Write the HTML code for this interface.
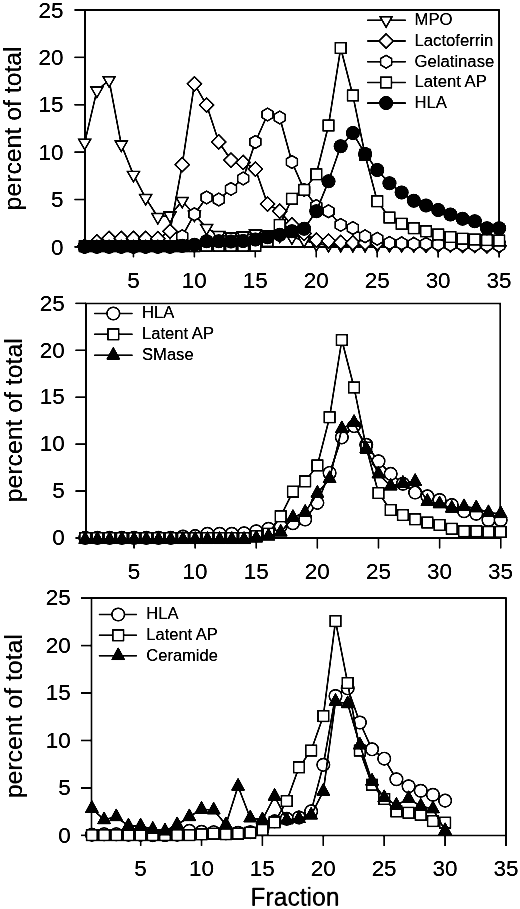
<!DOCTYPE html>
<html><head><meta charset="utf-8"><title>Fraction profiles</title>
<style>
html,body{margin:0;padding:0;background:#fff;}
body{width:520px;height:909px;overflow:hidden;font-family:"Liberation Sans",sans-serif;}
svg{display:block;opacity:0.999;will-change:transform;}
</style></head><body>
<svg width="520" height="909" viewBox="0 0 520 909" font-family="Liberation Sans, sans-serif" fill="#000"><style>text{stroke:#000;stroke-width:0.1px;}</style>
<defs><filter id="ink" x="0" y="0" width="100%" height="100%" color-interpolation-filters="sRGB"><feGaussianBlur stdDeviation="0.5"/><feComponentTransfer><feFuncR type="linear" slope="1.7" intercept="-0.5"/><feFuncG type="linear" slope="1.7" intercept="-0.5"/><feFuncB type="linear" slope="1.7" intercept="-0.5"/></feComponentTransfer></filter></defs>
<g filter="url(#ink)">
<rect width="520" height="909" fill="#fff"/>
<path d="M85 10 H499.1 V246.9 H85 Z" fill="none" stroke="#000" stroke-width="1.55"/>
<line x1="74.4" y1="246.9" x2="85" y2="246.9" stroke="#000" stroke-width="1.55"/>
<text transform="translate(63.5 254.6) scale(0.985 1)" font-size="22.8" text-anchor="end">0</text>
<line x1="74.4" y1="199.52" x2="85" y2="199.52" stroke="#000" stroke-width="1.55"/>
<text transform="translate(63.5 207.22) scale(0.985 1)" font-size="22.8" text-anchor="end">5</text>
<line x1="74.4" y1="152.14" x2="85" y2="152.14" stroke="#000" stroke-width="1.55"/>
<text transform="translate(63.5 159.84) scale(0.985 1)" font-size="22.8" text-anchor="end">10</text>
<line x1="74.4" y1="104.76" x2="85" y2="104.76" stroke="#000" stroke-width="1.55"/>
<text transform="translate(63.5 112.46) scale(0.985 1)" font-size="22.8" text-anchor="end">15</text>
<line x1="74.4" y1="57.38" x2="85" y2="57.38" stroke="#000" stroke-width="1.55"/>
<text transform="translate(63.5 65.08) scale(0.985 1)" font-size="22.8" text-anchor="end">20</text>
<line x1="74.4" y1="10" x2="85" y2="10" stroke="#000" stroke-width="1.55"/>
<text transform="translate(63.5 17.7) scale(0.985 1)" font-size="22.8" text-anchor="end">25</text>
<line x1="133.46" y1="246.9" x2="133.46" y2="257.4" stroke="#000" stroke-width="1.55"/>
<text transform="translate(133.36 288.2) scale(0.985 1)" font-size="22.8" text-anchor="middle">5</text>
<line x1="194.41" y1="246.9" x2="194.41" y2="257.4" stroke="#000" stroke-width="1.55"/>
<text transform="translate(194.31 288.2) scale(0.985 1)" font-size="22.8" text-anchor="middle">10</text>
<line x1="255.36" y1="246.9" x2="255.36" y2="257.4" stroke="#000" stroke-width="1.55"/>
<text transform="translate(255.26 288.2) scale(0.985 1)" font-size="22.8" text-anchor="middle">15</text>
<line x1="316.31" y1="246.9" x2="316.31" y2="257.4" stroke="#000" stroke-width="1.55"/>
<text transform="translate(316.21 288.2) scale(0.985 1)" font-size="22.8" text-anchor="middle">20</text>
<line x1="377.26" y1="246.9" x2="377.26" y2="257.4" stroke="#000" stroke-width="1.55"/>
<text transform="translate(377.16 288.2) scale(0.985 1)" font-size="22.8" text-anchor="middle">25</text>
<line x1="438.21" y1="246.9" x2="438.21" y2="257.4" stroke="#000" stroke-width="1.55"/>
<text transform="translate(438.11 288.2) scale(0.985 1)" font-size="22.8" text-anchor="middle">30</text>
<line x1="499.16" y1="246.9" x2="499.16" y2="257.4" stroke="#000" stroke-width="1.55"/>
<text transform="translate(499.06 288.2) scale(0.985 1)" font-size="22.8" text-anchor="middle">35</text>

<text transform="translate(21.2 128.4) rotate(-90)" font-size="24.8" text-anchor="middle">percent of total</text>

<polyline points="84.7,142.67 96.89,90.59 109.08,80.17 121.27,144.57 133.46,174.87 145.65,198.07 157.84,217.01 170.03,215.59 182.22,200.91 194.41,214.65 206.6,227.9 218.79,235.01 230.98,236.43 243.17,235.48 255.36,233.59 267.55,234.53 279.74,235.48 291.93,237.37 304.12,240.21 316.31,244 328.5,244.95 340.69,244.95 352.88,244.95 365.07,244.95 377.26,244.95 389.45,244.95 401.64,244.95 413.83,244.95 426.02,244.95 438.21,244.95 450.4,244.95 462.59,244.95 474.78,244.95 486.97,244.95 499.16,244.95" fill="none" stroke="#000" stroke-width="1.55" stroke-linejoin="round"/><polygon points="78.65,139.17 90.75,139.17 84.7,149.67" fill="#fff" stroke="#000" stroke-width="1.45" stroke-linejoin="miter"/><polygon points="90.84,87.09 102.94,87.09 96.89,97.59" fill="#fff" stroke="#000" stroke-width="1.45" stroke-linejoin="miter"/><polygon points="103.03,76.67 115.13,76.67 109.08,87.17" fill="#fff" stroke="#000" stroke-width="1.45" stroke-linejoin="miter"/><polygon points="115.22,141.07 127.32,141.07 121.27,151.57" fill="#fff" stroke="#000" stroke-width="1.45" stroke-linejoin="miter"/><polygon points="127.41,171.37 139.51,171.37 133.46,181.87" fill="#fff" stroke="#000" stroke-width="1.45" stroke-linejoin="miter"/><polygon points="139.6,194.57 151.7,194.57 145.65,205.07" fill="#fff" stroke="#000" stroke-width="1.45" stroke-linejoin="miter"/><polygon points="151.79,213.51 163.89,213.51 157.84,224.01" fill="#fff" stroke="#000" stroke-width="1.45" stroke-linejoin="miter"/><polygon points="163.98,212.09 176.08,212.09 170.03,222.59" fill="#fff" stroke="#000" stroke-width="1.45" stroke-linejoin="miter"/><polygon points="176.17,197.41 188.27,197.41 182.22,207.91" fill="#fff" stroke="#000" stroke-width="1.45" stroke-linejoin="miter"/><polygon points="188.36,211.15 200.46,211.15 194.41,221.65" fill="#fff" stroke="#000" stroke-width="1.45" stroke-linejoin="miter"/><polygon points="200.55,224.4 212.65,224.4 206.6,234.9" fill="#fff" stroke="#000" stroke-width="1.45" stroke-linejoin="miter"/><polygon points="212.74,231.51 224.84,231.51 218.79,242.01" fill="#fff" stroke="#000" stroke-width="1.45" stroke-linejoin="miter"/><polygon points="224.93,232.93 237.03,232.93 230.98,243.43" fill="#fff" stroke="#000" stroke-width="1.45" stroke-linejoin="miter"/><polygon points="237.12,231.98 249.22,231.98 243.17,242.48" fill="#fff" stroke="#000" stroke-width="1.45" stroke-linejoin="miter"/><polygon points="249.31,230.09 261.41,230.09 255.36,240.59" fill="#fff" stroke="#000" stroke-width="1.45" stroke-linejoin="miter"/><polygon points="261.5,231.03 273.6,231.03 267.55,241.53" fill="#fff" stroke="#000" stroke-width="1.45" stroke-linejoin="miter"/><polygon points="273.69,231.98 285.79,231.98 279.74,242.48" fill="#fff" stroke="#000" stroke-width="1.45" stroke-linejoin="miter"/><polygon points="285.88,233.87 297.98,233.87 291.93,244.37" fill="#fff" stroke="#000" stroke-width="1.45" stroke-linejoin="miter"/><polygon points="298.07,236.71 310.17,236.71 304.12,247.21" fill="#fff" stroke="#000" stroke-width="1.45" stroke-linejoin="miter"/><polygon points="310.26,240.5 322.36,240.5 316.31,251" fill="#fff" stroke="#000" stroke-width="1.45" stroke-linejoin="miter"/><polygon points="322.45,241.45 334.55,241.45 328.5,251.95" fill="#fff" stroke="#000" stroke-width="1.45" stroke-linejoin="miter"/><polygon points="334.64,241.45 346.74,241.45 340.69,251.95" fill="#fff" stroke="#000" stroke-width="1.45" stroke-linejoin="miter"/><polygon points="346.83,241.45 358.93,241.45 352.88,251.95" fill="#fff" stroke="#000" stroke-width="1.45" stroke-linejoin="miter"/><polygon points="359.02,241.45 371.12,241.45 365.07,251.95" fill="#fff" stroke="#000" stroke-width="1.45" stroke-linejoin="miter"/><polygon points="371.21,241.45 383.31,241.45 377.26,251.95" fill="#fff" stroke="#000" stroke-width="1.45" stroke-linejoin="miter"/><polygon points="383.4,241.45 395.5,241.45 389.45,251.95" fill="#fff" stroke="#000" stroke-width="1.45" stroke-linejoin="miter"/><polygon points="395.59,241.45 407.69,241.45 401.64,251.95" fill="#fff" stroke="#000" stroke-width="1.45" stroke-linejoin="miter"/><polygon points="407.78,241.45 419.88,241.45 413.83,251.95" fill="#fff" stroke="#000" stroke-width="1.45" stroke-linejoin="miter"/><polygon points="419.97,241.45 432.07,241.45 426.02,251.95" fill="#fff" stroke="#000" stroke-width="1.45" stroke-linejoin="miter"/><polygon points="432.16,241.45 444.26,241.45 438.21,251.95" fill="#fff" stroke="#000" stroke-width="1.45" stroke-linejoin="miter"/><polygon points="444.35,241.45 456.45,241.45 450.4,251.95" fill="#fff" stroke="#000" stroke-width="1.45" stroke-linejoin="miter"/><polygon points="456.54,241.45 468.64,241.45 462.59,251.95" fill="#fff" stroke="#000" stroke-width="1.45" stroke-linejoin="miter"/><polygon points="468.73,241.45 480.83,241.45 474.78,251.95" fill="#fff" stroke="#000" stroke-width="1.45" stroke-linejoin="miter"/><polygon points="480.92,241.45 493.02,241.45 486.97,251.95" fill="#fff" stroke="#000" stroke-width="1.45" stroke-linejoin="miter"/><polygon points="493.11,241.45 505.21,241.45 499.16,251.95" fill="#fff" stroke="#000" stroke-width="1.45" stroke-linejoin="miter"/>

<polyline points="84.7,246.23 96.89,241.96 109.08,238.37 121.27,238.37 133.46,238.37 145.65,238.37 157.84,238.65 170.03,231.26 182.22,164.69 194.41,83.82 206.6,105.03 218.79,141.96 230.98,160.05 243.17,162.42 255.36,169.05 267.55,204.08 279.74,211.19 291.93,224.92 304.12,233.44 316.31,240.07 328.5,241.02 340.69,242.44 352.88,242.91 365.07,242.91 377.26,242.91 389.45,243.86 401.64,243.86 413.83,244.33 426.02,244.81 438.21,244.81 450.4,244.81 462.59,245.28 474.78,245.28 486.97,245.75 499.16,245.75" fill="none" stroke="#000" stroke-width="1.55" stroke-linejoin="round"/><polygon points="84.7,239.13 91.8,246.23 84.7,253.33 77.6,246.23" fill="#fff" stroke="#000" stroke-width="1.45" stroke-linejoin="miter"/><polygon points="96.89,234.86 103.99,241.96 96.89,249.06 89.79,241.96" fill="#fff" stroke="#000" stroke-width="1.45" stroke-linejoin="miter"/><polygon points="109.08,231.27 116.18,238.37 109.08,245.47 101.98,238.37" fill="#fff" stroke="#000" stroke-width="1.45" stroke-linejoin="miter"/><polygon points="121.27,231.27 128.37,238.37 121.27,245.47 114.17,238.37" fill="#fff" stroke="#000" stroke-width="1.45" stroke-linejoin="miter"/><polygon points="133.46,231.27 140.56,238.37 133.46,245.47 126.36,238.37" fill="#fff" stroke="#000" stroke-width="1.45" stroke-linejoin="miter"/><polygon points="145.65,231.27 152.75,238.37 145.65,245.47 138.55,238.37" fill="#fff" stroke="#000" stroke-width="1.45" stroke-linejoin="miter"/><polygon points="157.84,231.55 164.94,238.65 157.84,245.75 150.74,238.65" fill="#fff" stroke="#000" stroke-width="1.45" stroke-linejoin="miter"/><polygon points="170.03,224.16 177.13,231.26 170.03,238.36 162.93,231.26" fill="#fff" stroke="#000" stroke-width="1.45" stroke-linejoin="miter"/><polygon points="182.22,157.59 189.32,164.69 182.22,171.79 175.12,164.69" fill="#fff" stroke="#000" stroke-width="1.45" stroke-linejoin="miter"/><polygon points="194.41,76.72 201.51,83.82 194.41,90.92 187.31,83.82" fill="#fff" stroke="#000" stroke-width="1.45" stroke-linejoin="miter"/><polygon points="206.6,97.93 213.7,105.03 206.6,112.13 199.5,105.03" fill="#fff" stroke="#000" stroke-width="1.45" stroke-linejoin="miter"/><polygon points="218.79,134.86 225.89,141.96 218.79,149.06 211.69,141.96" fill="#fff" stroke="#000" stroke-width="1.45" stroke-linejoin="miter"/><polygon points="230.98,152.95 238.08,160.05 230.98,167.15 223.88,160.05" fill="#fff" stroke="#000" stroke-width="1.45" stroke-linejoin="miter"/><polygon points="243.17,155.32 250.27,162.42 243.17,169.52 236.07,162.42" fill="#fff" stroke="#000" stroke-width="1.45" stroke-linejoin="miter"/><polygon points="255.36,161.95 262.46,169.05 255.36,176.15 248.26,169.05" fill="#fff" stroke="#000" stroke-width="1.45" stroke-linejoin="miter"/><polygon points="267.55,196.98 274.65,204.08 267.55,211.18 260.45,204.08" fill="#fff" stroke="#000" stroke-width="1.45" stroke-linejoin="miter"/><polygon points="279.74,204.09 286.84,211.19 279.74,218.29 272.64,211.19" fill="#fff" stroke="#000" stroke-width="1.45" stroke-linejoin="miter"/><polygon points="291.93,217.82 299.03,224.92 291.93,232.02 284.83,224.92" fill="#fff" stroke="#000" stroke-width="1.45" stroke-linejoin="miter"/><polygon points="304.12,226.34 311.22,233.44 304.12,240.54 297.02,233.44" fill="#fff" stroke="#000" stroke-width="1.45" stroke-linejoin="miter"/><polygon points="316.31,232.97 323.41,240.07 316.31,247.17 309.21,240.07" fill="#fff" stroke="#000" stroke-width="1.45" stroke-linejoin="miter"/><polygon points="328.5,233.92 335.6,241.02 328.5,248.12 321.4,241.02" fill="#fff" stroke="#000" stroke-width="1.45" stroke-linejoin="miter"/><polygon points="340.69,235.34 347.79,242.44 340.69,249.54 333.59,242.44" fill="#fff" stroke="#000" stroke-width="1.45" stroke-linejoin="miter"/><polygon points="352.88,235.81 359.98,242.91 352.88,250.01 345.78,242.91" fill="#fff" stroke="#000" stroke-width="1.45" stroke-linejoin="miter"/><polygon points="365.07,235.81 372.17,242.91 365.07,250.01 357.97,242.91" fill="#fff" stroke="#000" stroke-width="1.45" stroke-linejoin="miter"/><polygon points="377.26,235.81 384.36,242.91 377.26,250.01 370.16,242.91" fill="#fff" stroke="#000" stroke-width="1.45" stroke-linejoin="miter"/><polygon points="389.45,236.76 396.55,243.86 389.45,250.96 382.35,243.86" fill="#fff" stroke="#000" stroke-width="1.45" stroke-linejoin="miter"/><polygon points="401.64,236.76 408.74,243.86 401.64,250.96 394.54,243.86" fill="#fff" stroke="#000" stroke-width="1.45" stroke-linejoin="miter"/><polygon points="413.83,237.23 420.93,244.33 413.83,251.43 406.73,244.33" fill="#fff" stroke="#000" stroke-width="1.45" stroke-linejoin="miter"/><polygon points="426.02,237.71 433.12,244.81 426.02,251.91 418.92,244.81" fill="#fff" stroke="#000" stroke-width="1.45" stroke-linejoin="miter"/><polygon points="438.21,237.71 445.31,244.81 438.21,251.91 431.11,244.81" fill="#fff" stroke="#000" stroke-width="1.45" stroke-linejoin="miter"/><polygon points="450.4,237.71 457.5,244.81 450.4,251.91 443.3,244.81" fill="#fff" stroke="#000" stroke-width="1.45" stroke-linejoin="miter"/><polygon points="462.59,238.18 469.69,245.28 462.59,252.38 455.49,245.28" fill="#fff" stroke="#000" stroke-width="1.45" stroke-linejoin="miter"/><polygon points="474.78,238.18 481.88,245.28 474.78,252.38 467.68,245.28" fill="#fff" stroke="#000" stroke-width="1.45" stroke-linejoin="miter"/><polygon points="486.97,238.65 494.07,245.75 486.97,252.85 479.87,245.75" fill="#fff" stroke="#000" stroke-width="1.45" stroke-linejoin="miter"/><polygon points="499.16,238.65 506.26,245.75 499.16,252.85 492.06,245.75" fill="#fff" stroke="#000" stroke-width="1.45" stroke-linejoin="miter"/>

<polyline points="84.7,246.7 96.89,246.7 109.08,246.7 121.27,246.7 133.46,246.7 145.65,246.7 157.84,246.7 170.03,246.7 182.22,236.28 194.41,214.22 206.6,197.46 218.79,199.54 230.98,188.93 243.17,178.52 255.36,141.96 267.55,114.5 279.74,117.53 291.93,161.94 304.12,189.88 316.31,205.98 328.5,211.28 340.69,224.92 352.88,228.04 365.07,236.28 377.26,238.75 389.45,242.91 401.64,243.39 413.83,243.86 426.02,243.86 438.21,244.33 450.4,244.81 462.59,244.81 474.78,245.28 486.97,245.28 499.16,245.75" fill="none" stroke="#000" stroke-width="1.55" stroke-linejoin="round"/><polygon points="84.7,240.35 90.2,243.52 90.2,249.88 84.7,253.05 79.2,249.88 79.2,243.52" fill="#fff" stroke="#000" stroke-width="1.45" stroke-linejoin="miter"/><polygon points="96.89,240.35 102.39,243.52 102.39,249.88 96.89,253.05 91.39,249.88 91.39,243.52" fill="#fff" stroke="#000" stroke-width="1.45" stroke-linejoin="miter"/><polygon points="109.08,240.35 114.58,243.52 114.58,249.88 109.08,253.05 103.58,249.88 103.58,243.52" fill="#fff" stroke="#000" stroke-width="1.45" stroke-linejoin="miter"/><polygon points="121.27,240.35 126.77,243.52 126.77,249.88 121.27,253.05 115.77,249.88 115.77,243.52" fill="#fff" stroke="#000" stroke-width="1.45" stroke-linejoin="miter"/><polygon points="133.46,240.35 138.96,243.52 138.96,249.88 133.46,253.05 127.96,249.88 127.96,243.52" fill="#fff" stroke="#000" stroke-width="1.45" stroke-linejoin="miter"/><polygon points="145.65,240.35 151.15,243.52 151.15,249.88 145.65,253.05 140.15,249.88 140.15,243.52" fill="#fff" stroke="#000" stroke-width="1.45" stroke-linejoin="miter"/><polygon points="157.84,240.35 163.34,243.52 163.34,249.88 157.84,253.05 152.34,249.88 152.34,243.52" fill="#fff" stroke="#000" stroke-width="1.45" stroke-linejoin="miter"/><polygon points="170.03,240.35 175.53,243.52 175.53,249.88 170.03,253.05 164.53,249.88 164.53,243.52" fill="#fff" stroke="#000" stroke-width="1.45" stroke-linejoin="miter"/><polygon points="182.22,229.93 187.72,233.11 187.72,239.46 182.22,242.63 176.72,239.46 176.72,233.11" fill="#fff" stroke="#000" stroke-width="1.45" stroke-linejoin="miter"/><polygon points="194.41,207.87 199.91,211.04 199.91,217.39 194.41,220.57 188.91,217.39 188.91,211.04" fill="#fff" stroke="#000" stroke-width="1.45" stroke-linejoin="miter"/><polygon points="206.6,191.11 212.1,194.28 212.1,200.63 206.6,203.81 201.1,200.63 201.1,194.28" fill="#fff" stroke="#000" stroke-width="1.45" stroke-linejoin="miter"/><polygon points="218.79,193.19 224.29,196.36 224.29,202.71 218.79,205.89 213.29,202.71 213.29,196.36" fill="#fff" stroke="#000" stroke-width="1.45" stroke-linejoin="miter"/><polygon points="230.98,182.58 236.48,185.76 236.48,192.11 230.98,195.28 225.48,192.11 225.48,185.76" fill="#fff" stroke="#000" stroke-width="1.45" stroke-linejoin="miter"/><polygon points="243.17,172.17 248.67,175.34 248.67,181.69 243.17,184.87 237.67,181.69 237.67,175.34" fill="#fff" stroke="#000" stroke-width="1.45" stroke-linejoin="miter"/><polygon points="255.36,135.61 260.86,138.79 260.86,145.14 255.36,148.31 249.86,145.14 249.86,138.79" fill="#fff" stroke="#000" stroke-width="1.45" stroke-linejoin="miter"/><polygon points="267.55,108.15 273.05,111.32 273.05,117.67 267.55,120.85 262.05,117.67 262.05,111.32" fill="#fff" stroke="#000" stroke-width="1.45" stroke-linejoin="miter"/><polygon points="279.74,111.18 285.24,114.35 285.24,120.7 279.74,123.88 274.24,120.7 274.24,114.35" fill="#fff" stroke="#000" stroke-width="1.45" stroke-linejoin="miter"/><polygon points="291.93,155.59 297.43,158.77 297.43,165.12 291.93,168.29 286.43,165.12 286.43,158.77" fill="#fff" stroke="#000" stroke-width="1.45" stroke-linejoin="miter"/><polygon points="304.12,183.53 309.62,186.7 309.62,193.06 304.12,196.23 298.62,193.06 298.62,186.7" fill="#fff" stroke="#000" stroke-width="1.45" stroke-linejoin="miter"/><polygon points="316.31,199.63 321.81,202.8 321.81,209.15 316.31,212.33 310.81,209.15 310.81,202.8" fill="#fff" stroke="#000" stroke-width="1.45" stroke-linejoin="miter"/><polygon points="328.5,204.93 334,208.11 334,214.46 328.5,217.63 323,214.46 323,208.11" fill="#fff" stroke="#000" stroke-width="1.45" stroke-linejoin="miter"/><polygon points="340.69,218.57 346.19,221.74 346.19,228.09 340.69,231.27 335.19,228.09 335.19,221.74" fill="#fff" stroke="#000" stroke-width="1.45" stroke-linejoin="miter"/><polygon points="352.88,221.69 358.38,224.87 358.38,231.22 352.88,234.39 347.38,231.22 347.38,224.87" fill="#fff" stroke="#000" stroke-width="1.45" stroke-linejoin="miter"/><polygon points="365.07,229.93 370.57,233.11 370.57,239.46 365.07,242.63 359.57,239.46 359.57,233.11" fill="#fff" stroke="#000" stroke-width="1.45" stroke-linejoin="miter"/><polygon points="377.26,232.4 382.76,235.57 382.76,241.92 377.26,245.1 371.76,241.92 371.76,235.57" fill="#fff" stroke="#000" stroke-width="1.45" stroke-linejoin="miter"/><polygon points="389.45,236.56 394.95,239.74 394.95,246.09 389.45,249.26 383.95,246.09 383.95,239.74" fill="#fff" stroke="#000" stroke-width="1.45" stroke-linejoin="miter"/><polygon points="401.64,237.04 407.14,240.21 407.14,246.56 401.64,249.74 396.14,246.56 396.14,240.21" fill="#fff" stroke="#000" stroke-width="1.45" stroke-linejoin="miter"/><polygon points="413.83,237.51 419.33,240.68 419.33,247.03 413.83,250.21 408.33,247.03 408.33,240.68" fill="#fff" stroke="#000" stroke-width="1.45" stroke-linejoin="miter"/><polygon points="426.02,237.51 431.52,240.68 431.52,247.03 426.02,250.21 420.52,247.03 420.52,240.68" fill="#fff" stroke="#000" stroke-width="1.45" stroke-linejoin="miter"/><polygon points="438.21,237.98 443.71,241.16 443.71,247.51 438.21,250.68 432.71,247.51 432.71,241.16" fill="#fff" stroke="#000" stroke-width="1.45" stroke-linejoin="miter"/><polygon points="450.4,238.46 455.9,241.63 455.9,247.98 450.4,251.16 444.9,247.98 444.9,241.63" fill="#fff" stroke="#000" stroke-width="1.45" stroke-linejoin="miter"/><polygon points="462.59,238.46 468.09,241.63 468.09,247.98 462.59,251.16 457.09,247.98 457.09,241.63" fill="#fff" stroke="#000" stroke-width="1.45" stroke-linejoin="miter"/><polygon points="474.78,238.93 480.28,242.1 480.28,248.45 474.78,251.63 469.28,248.45 469.28,242.1" fill="#fff" stroke="#000" stroke-width="1.45" stroke-linejoin="miter"/><polygon points="486.97,238.93 492.47,242.1 492.47,248.45 486.97,251.63 481.47,248.45 481.47,242.1" fill="#fff" stroke="#000" stroke-width="1.45" stroke-linejoin="miter"/><polygon points="499.16,239.4 504.66,242.58 504.66,248.93 499.16,252.1 493.66,248.93 493.66,242.58" fill="#fff" stroke="#000" stroke-width="1.45" stroke-linejoin="miter"/>

<polyline points="84.7,246.23 96.89,246.23 109.08,246.23 121.27,246.23 133.46,246.23 145.65,246.23 157.84,246.23 170.03,246.23 182.22,246.23 194.41,246.23 206.6,245.75 218.79,245.75 230.98,245.75 243.17,245.75 255.36,245.75 267.55,241.02 279.74,224.92 291.93,198.78 304.12,189.88 316.31,174.25 328.5,125.48 340.69,48.02 352.88,95.46 365.07,154.84 377.26,201.24 389.45,217.53 401.64,223.78 413.83,228.23 426.02,231.26 438.21,234.48 450.4,237.04 462.59,238.75 474.78,239.5 486.97,240.07 499.16,240.54" fill="none" stroke="#000" stroke-width="1.55" stroke-linejoin="round"/><rect x="79.35" y="240.88" width="10.7" height="10.7" fill="#fff" stroke="#000" stroke-width="1.45"/><rect x="91.54" y="240.88" width="10.7" height="10.7" fill="#fff" stroke="#000" stroke-width="1.45"/><rect x="103.73" y="240.88" width="10.7" height="10.7" fill="#fff" stroke="#000" stroke-width="1.45"/><rect x="115.92" y="240.88" width="10.7" height="10.7" fill="#fff" stroke="#000" stroke-width="1.45"/><rect x="128.11" y="240.88" width="10.7" height="10.7" fill="#fff" stroke="#000" stroke-width="1.45"/><rect x="140.3" y="240.88" width="10.7" height="10.7" fill="#fff" stroke="#000" stroke-width="1.45"/><rect x="152.49" y="240.88" width="10.7" height="10.7" fill="#fff" stroke="#000" stroke-width="1.45"/><rect x="164.68" y="240.88" width="10.7" height="10.7" fill="#fff" stroke="#000" stroke-width="1.45"/><rect x="176.87" y="240.88" width="10.7" height="10.7" fill="#fff" stroke="#000" stroke-width="1.45"/><rect x="189.06" y="240.88" width="10.7" height="10.7" fill="#fff" stroke="#000" stroke-width="1.45"/><rect x="201.25" y="240.4" width="10.7" height="10.7" fill="#fff" stroke="#000" stroke-width="1.45"/><rect x="213.44" y="240.4" width="10.7" height="10.7" fill="#fff" stroke="#000" stroke-width="1.45"/><rect x="225.63" y="240.4" width="10.7" height="10.7" fill="#fff" stroke="#000" stroke-width="1.45"/><rect x="237.82" y="240.4" width="10.7" height="10.7" fill="#fff" stroke="#000" stroke-width="1.45"/><rect x="250.01" y="240.4" width="10.7" height="10.7" fill="#fff" stroke="#000" stroke-width="1.45"/><rect x="262.2" y="235.67" width="10.7" height="10.7" fill="#fff" stroke="#000" stroke-width="1.45"/><rect x="274.39" y="219.57" width="10.7" height="10.7" fill="#fff" stroke="#000" stroke-width="1.45"/><rect x="286.58" y="193.43" width="10.7" height="10.7" fill="#fff" stroke="#000" stroke-width="1.45"/><rect x="298.77" y="184.53" width="10.7" height="10.7" fill="#fff" stroke="#000" stroke-width="1.45"/><rect x="310.96" y="168.9" width="10.7" height="10.7" fill="#fff" stroke="#000" stroke-width="1.45"/><rect x="323.15" y="120.13" width="10.7" height="10.7" fill="#fff" stroke="#000" stroke-width="1.45"/><rect x="335.34" y="42.67" width="10.7" height="10.7" fill="#fff" stroke="#000" stroke-width="1.45"/><rect x="347.53" y="90.11" width="10.7" height="10.7" fill="#fff" stroke="#000" stroke-width="1.45"/><rect x="359.72" y="149.49" width="10.7" height="10.7" fill="#fff" stroke="#000" stroke-width="1.45"/><rect x="371.91" y="195.89" width="10.7" height="10.7" fill="#fff" stroke="#000" stroke-width="1.45"/><rect x="384.1" y="212.18" width="10.7" height="10.7" fill="#fff" stroke="#000" stroke-width="1.45"/><rect x="396.29" y="218.43" width="10.7" height="10.7" fill="#fff" stroke="#000" stroke-width="1.45"/><rect x="408.48" y="222.88" width="10.7" height="10.7" fill="#fff" stroke="#000" stroke-width="1.45"/><rect x="420.67" y="225.91" width="10.7" height="10.7" fill="#fff" stroke="#000" stroke-width="1.45"/><rect x="432.86" y="229.13" width="10.7" height="10.7" fill="#fff" stroke="#000" stroke-width="1.45"/><rect x="445.05" y="231.69" width="10.7" height="10.7" fill="#fff" stroke="#000" stroke-width="1.45"/><rect x="457.24" y="233.4" width="10.7" height="10.7" fill="#fff" stroke="#000" stroke-width="1.45"/><rect x="469.43" y="234.15" width="10.7" height="10.7" fill="#fff" stroke="#000" stroke-width="1.45"/><rect x="481.62" y="234.72" width="10.7" height="10.7" fill="#fff" stroke="#000" stroke-width="1.45"/><rect x="493.81" y="235.19" width="10.7" height="10.7" fill="#fff" stroke="#000" stroke-width="1.45"/>

<polyline points="84.7,246.7 96.89,246.7 109.08,246.7 121.27,246.7 133.46,246.7 145.65,246.7 157.84,246.7 170.03,246.7 182.22,245.75 194.41,244.81 206.6,241.21 218.79,241.21 230.98,241.49 243.17,241.02 255.36,239.6 267.55,237.23 279.74,234.86 291.93,231.26 304.12,228.71 316.31,211.28 328.5,181.36 340.69,146.32 352.88,133.06 365.07,153.89 377.26,169.99 389.45,183.25 401.64,192.53 413.83,200.77 426.02,205.51 438.21,209.96 450.4,214.5 462.59,218.76 474.78,221.23 486.97,228.23 499.16,228.23" fill="none" stroke="#000" stroke-width="1.55" stroke-linejoin="round"/><circle cx="84.7" cy="246.7" r="7.0" fill="#000"/><circle cx="96.89" cy="246.7" r="7.0" fill="#000"/><circle cx="109.08" cy="246.7" r="7.0" fill="#000"/><circle cx="121.27" cy="246.7" r="7.0" fill="#000"/><circle cx="133.46" cy="246.7" r="7.0" fill="#000"/><circle cx="145.65" cy="246.7" r="7.0" fill="#000"/><circle cx="157.84" cy="246.7" r="7.0" fill="#000"/><circle cx="170.03" cy="246.7" r="7.0" fill="#000"/><circle cx="182.22" cy="245.75" r="7.0" fill="#000"/><circle cx="194.41" cy="244.81" r="7.0" fill="#000"/><circle cx="206.6" cy="241.21" r="7.0" fill="#000"/><circle cx="218.79" cy="241.21" r="7.0" fill="#000"/><circle cx="230.98" cy="241.49" r="7.0" fill="#000"/><circle cx="243.17" cy="241.02" r="7.0" fill="#000"/><circle cx="255.36" cy="239.6" r="7.0" fill="#000"/><circle cx="267.55" cy="237.23" r="7.0" fill="#000"/><circle cx="279.74" cy="234.86" r="7.0" fill="#000"/><circle cx="291.93" cy="231.26" r="7.0" fill="#000"/><circle cx="304.12" cy="228.71" r="7.0" fill="#000"/><circle cx="316.31" cy="211.28" r="7.0" fill="#000"/><circle cx="328.5" cy="181.36" r="7.0" fill="#000"/><circle cx="340.69" cy="146.32" r="7.0" fill="#000"/><circle cx="352.88" cy="133.06" r="7.0" fill="#000"/><circle cx="365.07" cy="153.89" r="7.0" fill="#000"/><circle cx="377.26" cy="169.99" r="7.0" fill="#000"/><circle cx="389.45" cy="183.25" r="7.0" fill="#000"/><circle cx="401.64" cy="192.53" r="7.0" fill="#000"/><circle cx="413.83" cy="200.77" r="7.0" fill="#000"/><circle cx="426.02" cy="205.51" r="7.0" fill="#000"/><circle cx="438.21" cy="209.96" r="7.0" fill="#000"/><circle cx="450.4" cy="214.5" r="7.0" fill="#000"/><circle cx="462.59" cy="218.76" r="7.0" fill="#000"/><circle cx="474.78" cy="221.23" r="7.0" fill="#000"/><circle cx="486.97" cy="228.23" r="7.0" fill="#000"/><circle cx="499.16" cy="228.23" r="7.0" fill="#000"/>

<line x1="367.2" y1="20.2" x2="405.8" y2="20.2" stroke="#000" stroke-width="1.55"/>
<polygon points="380.05,16.7 392.15,16.7 386.1,27.2" fill="#fff" stroke="#000" stroke-width="1.45" stroke-linejoin="miter"/>
<text x="414.5" y="25.4" font-size="16.7">MPO</text>
<line x1="367.2" y1="41" x2="405.8" y2="41" stroke="#000" stroke-width="1.55"/>
<polygon points="386.1,33.9 393.2,41 386.1,48.1 379,41" fill="#fff" stroke="#000" stroke-width="1.45" stroke-linejoin="miter"/>
<text x="414.5" y="45.8" font-size="16.7">Lactoferrin</text>
<line x1="367.2" y1="61.7" x2="405.8" y2="61.7" stroke="#000" stroke-width="1.55"/>
<polygon points="386.1,55.35 391.6,58.53 391.6,64.88 386.1,68.05 380.6,64.88 380.6,58.53" fill="#fff" stroke="#000" stroke-width="1.45" stroke-linejoin="miter"/>
<text x="414.5" y="66.6" font-size="16.7">Gelatinase</text>
<line x1="367.2" y1="82.5" x2="405.8" y2="82.5" stroke="#000" stroke-width="1.55"/>
<rect x="380.75" y="77.15" width="10.7" height="10.7" fill="#fff" stroke="#000" stroke-width="1.45"/>
<text x="414.5" y="87.4" font-size="16.7">Latent AP</text>
<line x1="367.2" y1="103.1" x2="405.8" y2="103.1" stroke="#000" stroke-width="1.55"/>
<circle cx="386.1" cy="103.1" r="7.0" fill="#000"/>
<text x="414.5" y="108" font-size="16.7">HLA</text>

<path d="M86 303.4 H500.3 V538 H86 Z" fill="none" stroke="#000" stroke-width="1.55"/>
<line x1="75.4" y1="538" x2="86" y2="538" stroke="#000" stroke-width="1.55"/>
<text transform="translate(64.8 545.2) scale(0.985 1)" font-size="22.8" text-anchor="end">0</text>
<line x1="75.4" y1="491.08" x2="86" y2="491.08" stroke="#000" stroke-width="1.55"/>
<text transform="translate(64.8 498.28) scale(0.985 1)" font-size="22.8" text-anchor="end">5</text>
<line x1="75.4" y1="444.16" x2="86" y2="444.16" stroke="#000" stroke-width="1.55"/>
<text transform="translate(64.8 451.36) scale(0.985 1)" font-size="22.8" text-anchor="end">10</text>
<line x1="75.4" y1="397.24" x2="86" y2="397.24" stroke="#000" stroke-width="1.55"/>
<text transform="translate(64.8 404.44) scale(0.985 1)" font-size="22.8" text-anchor="end">15</text>
<line x1="75.4" y1="350.32" x2="86" y2="350.32" stroke="#000" stroke-width="1.55"/>
<text transform="translate(64.8 357.52) scale(0.985 1)" font-size="22.8" text-anchor="end">20</text>
<line x1="75.4" y1="303.4" x2="86" y2="303.4" stroke="#000" stroke-width="1.55"/>
<text transform="translate(64.8 310.6) scale(0.985 1)" font-size="22.8" text-anchor="end">25</text>
<line x1="134.08" y1="538" x2="134.08" y2="548.5" stroke="#000" stroke-width="1.55"/>
<text transform="translate(133.98 579) scale(0.985 1)" font-size="22.8" text-anchor="middle">5</text>
<line x1="195.18" y1="538" x2="195.18" y2="548.5" stroke="#000" stroke-width="1.55"/>
<text transform="translate(195.08 579) scale(0.985 1)" font-size="22.8" text-anchor="middle">10</text>
<line x1="256.28" y1="538" x2="256.28" y2="548.5" stroke="#000" stroke-width="1.55"/>
<text transform="translate(256.18 579) scale(0.985 1)" font-size="22.8" text-anchor="middle">15</text>
<line x1="317.38" y1="538" x2="317.38" y2="548.5" stroke="#000" stroke-width="1.55"/>
<text transform="translate(317.28 579) scale(0.985 1)" font-size="22.8" text-anchor="middle">20</text>
<line x1="378.48" y1="538" x2="378.48" y2="548.5" stroke="#000" stroke-width="1.55"/>
<text transform="translate(378.38 579) scale(0.985 1)" font-size="22.8" text-anchor="middle">25</text>
<line x1="439.58" y1="538" x2="439.58" y2="548.5" stroke="#000" stroke-width="1.55"/>
<text transform="translate(439.48 579) scale(0.985 1)" font-size="22.8" text-anchor="middle">30</text>
<line x1="500.68" y1="538" x2="500.68" y2="548.5" stroke="#000" stroke-width="1.55"/>
<text transform="translate(500.58 579) scale(0.985 1)" font-size="22.8" text-anchor="middle">35</text>

<text transform="translate(21.6 420.3) rotate(-90)" font-size="24.8" text-anchor="middle">percent of total</text>

<polyline points="85.2,537.69 97.42,537.69 109.64,537.69 121.86,537.69 134.08,537.69 146.3,537.69 158.52,537.69 170.74,537.69 182.96,536.56 195.18,536.1 207.4,533.76 219.62,533.76 231.84,533.76 244.06,533.29 256.28,531.23 268.5,528.8 280.72,526.27 292.94,523.27 305.16,519.53 317.38,502.87 329.6,472.92 341.82,437.35 354.04,426.12 366.26,444.84 378.48,461.22 390.7,473.85 402.92,483.77 415.14,492.57 427.36,496.32 439.58,500.06 451.8,505.02 464.02,511.29 476.24,513.73 488.46,520 500.68,520" fill="none" stroke="#000" stroke-width="1.55" stroke-linejoin="round"/><circle cx="85.2" cy="537.69" r="6.3" fill="#fff" stroke="#000" stroke-width="1.45"/><circle cx="97.42" cy="537.69" r="6.3" fill="#fff" stroke="#000" stroke-width="1.45"/><circle cx="109.64" cy="537.69" r="6.3" fill="#fff" stroke="#000" stroke-width="1.45"/><circle cx="121.86" cy="537.69" r="6.3" fill="#fff" stroke="#000" stroke-width="1.45"/><circle cx="134.08" cy="537.69" r="6.3" fill="#fff" stroke="#000" stroke-width="1.45"/><circle cx="146.3" cy="537.69" r="6.3" fill="#fff" stroke="#000" stroke-width="1.45"/><circle cx="158.52" cy="537.69" r="6.3" fill="#fff" stroke="#000" stroke-width="1.45"/><circle cx="170.74" cy="537.69" r="6.3" fill="#fff" stroke="#000" stroke-width="1.45"/><circle cx="182.96" cy="536.56" r="6.3" fill="#fff" stroke="#000" stroke-width="1.45"/><circle cx="195.18" cy="536.1" r="6.3" fill="#fff" stroke="#000" stroke-width="1.45"/><circle cx="207.4" cy="533.76" r="6.3" fill="#fff" stroke="#000" stroke-width="1.45"/><circle cx="219.62" cy="533.76" r="6.3" fill="#fff" stroke="#000" stroke-width="1.45"/><circle cx="231.84" cy="533.76" r="6.3" fill="#fff" stroke="#000" stroke-width="1.45"/><circle cx="244.06" cy="533.29" r="6.3" fill="#fff" stroke="#000" stroke-width="1.45"/><circle cx="256.28" cy="531.23" r="6.3" fill="#fff" stroke="#000" stroke-width="1.45"/><circle cx="268.5" cy="528.8" r="6.3" fill="#fff" stroke="#000" stroke-width="1.45"/><circle cx="280.72" cy="526.27" r="6.3" fill="#fff" stroke="#000" stroke-width="1.45"/><circle cx="292.94" cy="523.27" r="6.3" fill="#fff" stroke="#000" stroke-width="1.45"/><circle cx="305.16" cy="519.53" r="6.3" fill="#fff" stroke="#000" stroke-width="1.45"/><circle cx="317.38" cy="502.87" r="6.3" fill="#fff" stroke="#000" stroke-width="1.45"/><circle cx="329.6" cy="472.92" r="6.3" fill="#fff" stroke="#000" stroke-width="1.45"/><circle cx="341.82" cy="437.35" r="6.3" fill="#fff" stroke="#000" stroke-width="1.45"/><circle cx="354.04" cy="426.12" r="6.3" fill="#fff" stroke="#000" stroke-width="1.45"/><circle cx="366.26" cy="444.84" r="6.3" fill="#fff" stroke="#000" stroke-width="1.45"/><circle cx="378.48" cy="461.22" r="6.3" fill="#fff" stroke="#000" stroke-width="1.45"/><circle cx="390.7" cy="473.85" r="6.3" fill="#fff" stroke="#000" stroke-width="1.45"/><circle cx="402.92" cy="483.77" r="6.3" fill="#fff" stroke="#000" stroke-width="1.45"/><circle cx="415.14" cy="492.57" r="6.3" fill="#fff" stroke="#000" stroke-width="1.45"/><circle cx="427.36" cy="496.32" r="6.3" fill="#fff" stroke="#000" stroke-width="1.45"/><circle cx="439.58" cy="500.06" r="6.3" fill="#fff" stroke="#000" stroke-width="1.45"/><circle cx="451.8" cy="505.02" r="6.3" fill="#fff" stroke="#000" stroke-width="1.45"/><circle cx="464.02" cy="511.29" r="6.3" fill="#fff" stroke="#000" stroke-width="1.45"/><circle cx="476.24" cy="513.73" r="6.3" fill="#fff" stroke="#000" stroke-width="1.45"/><circle cx="488.46" cy="520" r="6.3" fill="#fff" stroke="#000" stroke-width="1.45"/><circle cx="500.68" cy="520" r="6.3" fill="#fff" stroke="#000" stroke-width="1.45"/>

<polyline points="85.2,538.06 97.42,538.06 109.64,538.06 121.86,538.06 134.08,538.06 146.3,538.06 158.52,538.06 170.74,538.06 182.96,538.06 195.18,538.06 207.4,538.06 219.62,538.06 231.84,538.06 244.06,538.06 256.28,536.1 268.5,533.76 280.72,516.25 292.94,491.64 305.16,481.34 317.38,465.43 329.6,417.22 341.82,340 354.04,387.46 366.26,447.64 378.48,493.04 390.7,509.98 402.92,515.04 415.14,519.25 427.36,522.52 439.58,524.96 451.8,528.8 464.02,531.23 476.24,531.23 488.46,531.88 500.68,531.88" fill="none" stroke="#000" stroke-width="1.55" stroke-linejoin="round"/><rect x="79.85" y="532.71" width="10.7" height="10.7" fill="#fff" stroke="#000" stroke-width="1.45"/><rect x="92.07" y="532.71" width="10.7" height="10.7" fill="#fff" stroke="#000" stroke-width="1.45"/><rect x="104.29" y="532.71" width="10.7" height="10.7" fill="#fff" stroke="#000" stroke-width="1.45"/><rect x="116.51" y="532.71" width="10.7" height="10.7" fill="#fff" stroke="#000" stroke-width="1.45"/><rect x="128.73" y="532.71" width="10.7" height="10.7" fill="#fff" stroke="#000" stroke-width="1.45"/><rect x="140.95" y="532.71" width="10.7" height="10.7" fill="#fff" stroke="#000" stroke-width="1.45"/><rect x="153.17" y="532.71" width="10.7" height="10.7" fill="#fff" stroke="#000" stroke-width="1.45"/><rect x="165.39" y="532.71" width="10.7" height="10.7" fill="#fff" stroke="#000" stroke-width="1.45"/><rect x="177.61" y="532.71" width="10.7" height="10.7" fill="#fff" stroke="#000" stroke-width="1.45"/><rect x="189.83" y="532.71" width="10.7" height="10.7" fill="#fff" stroke="#000" stroke-width="1.45"/><rect x="202.05" y="532.71" width="10.7" height="10.7" fill="#fff" stroke="#000" stroke-width="1.45"/><rect x="214.27" y="532.71" width="10.7" height="10.7" fill="#fff" stroke="#000" stroke-width="1.45"/><rect x="226.49" y="532.71" width="10.7" height="10.7" fill="#fff" stroke="#000" stroke-width="1.45"/><rect x="238.71" y="532.71" width="10.7" height="10.7" fill="#fff" stroke="#000" stroke-width="1.45"/><rect x="250.93" y="530.75" width="10.7" height="10.7" fill="#fff" stroke="#000" stroke-width="1.45"/><rect x="263.15" y="528.41" width="10.7" height="10.7" fill="#fff" stroke="#000" stroke-width="1.45"/><rect x="275.37" y="510.9" width="10.7" height="10.7" fill="#fff" stroke="#000" stroke-width="1.45"/><rect x="287.59" y="486.29" width="10.7" height="10.7" fill="#fff" stroke="#000" stroke-width="1.45"/><rect x="299.81" y="475.99" width="10.7" height="10.7" fill="#fff" stroke="#000" stroke-width="1.45"/><rect x="312.03" y="460.08" width="10.7" height="10.7" fill="#fff" stroke="#000" stroke-width="1.45"/><rect x="324.25" y="411.87" width="10.7" height="10.7" fill="#fff" stroke="#000" stroke-width="1.45"/><rect x="336.47" y="334.65" width="10.7" height="10.7" fill="#fff" stroke="#000" stroke-width="1.45"/><rect x="348.69" y="382.11" width="10.7" height="10.7" fill="#fff" stroke="#000" stroke-width="1.45"/><rect x="360.91" y="442.29" width="10.7" height="10.7" fill="#fff" stroke="#000" stroke-width="1.45"/><rect x="373.13" y="487.69" width="10.7" height="10.7" fill="#fff" stroke="#000" stroke-width="1.45"/><rect x="385.35" y="504.63" width="10.7" height="10.7" fill="#fff" stroke="#000" stroke-width="1.45"/><rect x="397.57" y="509.69" width="10.7" height="10.7" fill="#fff" stroke="#000" stroke-width="1.45"/><rect x="409.79" y="513.9" width="10.7" height="10.7" fill="#fff" stroke="#000" stroke-width="1.45"/><rect x="422.01" y="517.17" width="10.7" height="10.7" fill="#fff" stroke="#000" stroke-width="1.45"/><rect x="434.23" y="519.61" width="10.7" height="10.7" fill="#fff" stroke="#000" stroke-width="1.45"/><rect x="446.45" y="523.45" width="10.7" height="10.7" fill="#fff" stroke="#000" stroke-width="1.45"/><rect x="458.67" y="525.88" width="10.7" height="10.7" fill="#fff" stroke="#000" stroke-width="1.45"/><rect x="470.89" y="525.88" width="10.7" height="10.7" fill="#fff" stroke="#000" stroke-width="1.45"/><rect x="483.11" y="526.53" width="10.7" height="10.7" fill="#fff" stroke="#000" stroke-width="1.45"/><rect x="495.33" y="526.53" width="10.7" height="10.7" fill="#fff" stroke="#000" stroke-width="1.45"/>

<polyline points="85.2,539.47 97.42,539.47 109.64,539.47 121.86,539.47 134.08,539.47 146.3,539.47 158.52,539.47 170.74,539.47 182.96,539.47 195.18,539.47 207.4,539.47 219.62,539.47 231.84,539.47 244.06,539.47 256.28,538.06 268.5,536.19 280.72,532.17 292.94,517.47 305.16,512.32 317.38,493.23 329.6,478.63 341.82,428.74 354.04,422.47 366.26,448.96 378.48,473.95 390.7,486.11 402.92,483.31 415.14,481.43 427.36,501.47 439.58,503.9 451.8,508.2 464.02,506.71 476.24,507.92 488.46,512.7 500.68,513.73" fill="none" stroke="#000" stroke-width="1.55" stroke-linejoin="round"/><polygon points="78.75,543.4 91.65,543.4 85.2,531.6" fill="#000" stroke="#000" stroke-width="1" stroke-linejoin="miter"/><polygon points="90.97,543.4 103.87,543.4 97.42,531.6" fill="#000" stroke="#000" stroke-width="1" stroke-linejoin="miter"/><polygon points="103.19,543.4 116.09,543.4 109.64,531.6" fill="#000" stroke="#000" stroke-width="1" stroke-linejoin="miter"/><polygon points="115.41,543.4 128.31,543.4 121.86,531.6" fill="#000" stroke="#000" stroke-width="1" stroke-linejoin="miter"/><polygon points="127.63,543.4 140.53,543.4 134.08,531.6" fill="#000" stroke="#000" stroke-width="1" stroke-linejoin="miter"/><polygon points="139.85,543.4 152.75,543.4 146.3,531.6" fill="#000" stroke="#000" stroke-width="1" stroke-linejoin="miter"/><polygon points="152.07,543.4 164.97,543.4 158.52,531.6" fill="#000" stroke="#000" stroke-width="1" stroke-linejoin="miter"/><polygon points="164.29,543.4 177.19,543.4 170.74,531.6" fill="#000" stroke="#000" stroke-width="1" stroke-linejoin="miter"/><polygon points="176.51,543.4 189.41,543.4 182.96,531.6" fill="#000" stroke="#000" stroke-width="1" stroke-linejoin="miter"/><polygon points="188.73,543.4 201.63,543.4 195.18,531.6" fill="#000" stroke="#000" stroke-width="1" stroke-linejoin="miter"/><polygon points="200.95,543.4 213.85,543.4 207.4,531.6" fill="#000" stroke="#000" stroke-width="1" stroke-linejoin="miter"/><polygon points="213.17,543.4 226.07,543.4 219.62,531.6" fill="#000" stroke="#000" stroke-width="1" stroke-linejoin="miter"/><polygon points="225.39,543.4 238.29,543.4 231.84,531.6" fill="#000" stroke="#000" stroke-width="1" stroke-linejoin="miter"/><polygon points="237.61,543.4 250.51,543.4 244.06,531.6" fill="#000" stroke="#000" stroke-width="1" stroke-linejoin="miter"/><polygon points="249.83,542 262.73,542 256.28,530.2" fill="#000" stroke="#000" stroke-width="1" stroke-linejoin="miter"/><polygon points="262.05,540.12 274.95,540.12 268.5,528.32" fill="#000" stroke="#000" stroke-width="1" stroke-linejoin="miter"/><polygon points="274.27,536.1 287.17,536.1 280.72,524.3" fill="#000" stroke="#000" stroke-width="1" stroke-linejoin="miter"/><polygon points="286.49,521.4 299.39,521.4 292.94,509.6" fill="#000" stroke="#000" stroke-width="1" stroke-linejoin="miter"/><polygon points="298.71,516.26 311.61,516.26 305.16,504.46" fill="#000" stroke="#000" stroke-width="1" stroke-linejoin="miter"/><polygon points="310.93,497.16 323.83,497.16 317.38,485.36" fill="#000" stroke="#000" stroke-width="1" stroke-linejoin="miter"/><polygon points="323.15,482.56 336.05,482.56 329.6,470.76" fill="#000" stroke="#000" stroke-width="1" stroke-linejoin="miter"/><polygon points="335.37,432.67 348.27,432.67 341.82,420.87" fill="#000" stroke="#000" stroke-width="1" stroke-linejoin="miter"/><polygon points="347.59,426.4 360.49,426.4 354.04,414.6" fill="#000" stroke="#000" stroke-width="1" stroke-linejoin="miter"/><polygon points="359.81,452.89 372.71,452.89 366.26,441.09" fill="#000" stroke="#000" stroke-width="1" stroke-linejoin="miter"/><polygon points="372.03,477.88 384.93,477.88 378.48,466.08" fill="#000" stroke="#000" stroke-width="1" stroke-linejoin="miter"/><polygon points="384.25,490.05 397.15,490.05 390.7,478.25" fill="#000" stroke="#000" stroke-width="1" stroke-linejoin="miter"/><polygon points="396.47,487.24 409.37,487.24 402.92,475.44" fill="#000" stroke="#000" stroke-width="1" stroke-linejoin="miter"/><polygon points="408.69,485.37 421.59,485.37 415.14,473.57" fill="#000" stroke="#000" stroke-width="1" stroke-linejoin="miter"/><polygon points="420.91,505.4 433.81,505.4 427.36,493.6" fill="#000" stroke="#000" stroke-width="1" stroke-linejoin="miter"/><polygon points="433.13,507.83 446.03,507.83 439.58,496.03" fill="#000" stroke="#000" stroke-width="1" stroke-linejoin="miter"/><polygon points="445.35,512.14 458.25,512.14 451.8,500.34" fill="#000" stroke="#000" stroke-width="1" stroke-linejoin="miter"/><polygon points="457.57,510.64 470.47,510.64 464.02,498.84" fill="#000" stroke="#000" stroke-width="1" stroke-linejoin="miter"/><polygon points="469.79,511.86 482.69,511.86 476.24,500.06" fill="#000" stroke="#000" stroke-width="1" stroke-linejoin="miter"/><polygon points="482.01,516.63 494.91,516.63 488.46,504.83" fill="#000" stroke="#000" stroke-width="1" stroke-linejoin="miter"/><polygon points="494.23,517.66 507.13,517.66 500.68,505.86" fill="#000" stroke="#000" stroke-width="1" stroke-linejoin="miter"/>

<line x1="94.2" y1="313.5" x2="132.6" y2="313.5" stroke="#000" stroke-width="1.55"/>
<circle cx="113.3" cy="313.5" r="6.3" fill="#fff" stroke="#000" stroke-width="1.45"/>
<text x="142" y="318.4" font-size="16.6">HLA</text>
<line x1="94.2" y1="334.3" x2="132.6" y2="334.3" stroke="#000" stroke-width="1.55"/>
<rect x="107.95" y="328.95" width="10.7" height="10.7" fill="#fff" stroke="#000" stroke-width="1.45"/>
<text x="142" y="339.1" font-size="16.6">Latent AP</text>
<line x1="94.2" y1="355.2" x2="132.6" y2="355.2" stroke="#000" stroke-width="1.55"/>
<polygon points="106.85,359.13 119.75,359.13 113.3,347.33" fill="#000" stroke="#000" stroke-width="1" stroke-linejoin="miter"/>
<text x="142" y="359.5" font-size="16.6">SMase</text>

<path d="M91.5 598.1 H506 V835.4 H91.5 Z" fill="none" stroke="#000" stroke-width="1.55"/>
<line x1="80.9" y1="835.4" x2="91.5" y2="835.4" stroke="#000" stroke-width="1.55"/>
<text transform="translate(70.8 842.7) scale(0.985 1)" font-size="22.8" text-anchor="end">0</text>
<line x1="80.9" y1="787.94" x2="91.5" y2="787.94" stroke="#000" stroke-width="1.55"/>
<text transform="translate(70.8 795.24) scale(0.985 1)" font-size="22.8" text-anchor="end">5</text>
<line x1="80.9" y1="740.48" x2="91.5" y2="740.48" stroke="#000" stroke-width="1.55"/>
<text transform="translate(70.8 747.78) scale(0.985 1)" font-size="22.8" text-anchor="end">10</text>
<line x1="80.9" y1="693.02" x2="91.5" y2="693.02" stroke="#000" stroke-width="1.55"/>
<text transform="translate(70.8 700.32) scale(0.985 1)" font-size="22.8" text-anchor="end">15</text>
<line x1="80.9" y1="645.56" x2="91.5" y2="645.56" stroke="#000" stroke-width="1.55"/>
<text transform="translate(70.8 652.86) scale(0.985 1)" font-size="22.8" text-anchor="end">20</text>
<line x1="80.9" y1="598.1" x2="91.5" y2="598.1" stroke="#000" stroke-width="1.55"/>
<text transform="translate(70.8 605.4) scale(0.985 1)" font-size="22.8" text-anchor="end">25</text>
<line x1="140.62" y1="835.4" x2="140.62" y2="845.9" stroke="#000" stroke-width="1.55"/>
<text transform="translate(140.52 875.5) scale(0.985 1)" font-size="22.8" text-anchor="middle">5</text>
<line x1="201.52" y1="835.4" x2="201.52" y2="845.9" stroke="#000" stroke-width="1.55"/>
<text transform="translate(201.42 875.5) scale(0.985 1)" font-size="22.8" text-anchor="middle">10</text>
<line x1="262.42" y1="835.4" x2="262.42" y2="845.9" stroke="#000" stroke-width="1.55"/>
<text transform="translate(262.32 875.5) scale(0.985 1)" font-size="22.8" text-anchor="middle">15</text>
<line x1="323.32" y1="835.4" x2="323.32" y2="845.9" stroke="#000" stroke-width="1.55"/>
<text transform="translate(323.22 875.5) scale(0.985 1)" font-size="22.8" text-anchor="middle">20</text>
<line x1="384.22" y1="835.4" x2="384.22" y2="845.9" stroke="#000" stroke-width="1.55"/>
<text transform="translate(384.12 875.5) scale(0.985 1)" font-size="22.8" text-anchor="middle">25</text>
<line x1="445.12" y1="835.4" x2="445.12" y2="845.9" stroke="#000" stroke-width="1.55"/>
<text transform="translate(445.02 875.5) scale(0.985 1)" font-size="22.8" text-anchor="middle">30</text>
<line x1="506.02" y1="835.4" x2="506.02" y2="845.9" stroke="#000" stroke-width="1.55"/>
<text transform="translate(505.92 875.5) scale(0.985 1)" font-size="22.8" text-anchor="middle">35</text>

<text transform="translate(22 716.2) rotate(-90)" font-size="24.8" text-anchor="middle">percent of total</text>

<polyline points="91.9,834.65 104.08,834.18 116.26,834.18 128.44,834.65 140.62,834.65 152.8,835.12 164.98,835.12 177.16,834.65 189.34,830.85 201.52,831.8 213.7,832.18 225.88,833.23 238.06,832.75 250.24,832.27 262.42,828.95 274.6,821.35 286.78,818.78 298.96,817.55 311.14,811.38 323.32,764.83 335.5,695.95 347.68,688.35 359.86,722.55 372.04,749.34 384.22,758.65 396.4,779.26 408.58,786.2 420.76,790.76 432.94,794.75 445.12,800.64" fill="none" stroke="#000" stroke-width="1.55" stroke-linejoin="round"/><circle cx="91.9" cy="834.65" r="6.3" fill="#fff" stroke="#000" stroke-width="1.45"/><circle cx="104.08" cy="834.18" r="6.3" fill="#fff" stroke="#000" stroke-width="1.45"/><circle cx="116.26" cy="834.18" r="6.3" fill="#fff" stroke="#000" stroke-width="1.45"/><circle cx="128.44" cy="834.65" r="6.3" fill="#fff" stroke="#000" stroke-width="1.45"/><circle cx="140.62" cy="834.65" r="6.3" fill="#fff" stroke="#000" stroke-width="1.45"/><circle cx="152.8" cy="835.12" r="6.3" fill="#fff" stroke="#000" stroke-width="1.45"/><circle cx="164.98" cy="835.12" r="6.3" fill="#fff" stroke="#000" stroke-width="1.45"/><circle cx="177.16" cy="834.65" r="6.3" fill="#fff" stroke="#000" stroke-width="1.45"/><circle cx="189.34" cy="830.85" r="6.3" fill="#fff" stroke="#000" stroke-width="1.45"/><circle cx="201.52" cy="831.8" r="6.3" fill="#fff" stroke="#000" stroke-width="1.45"/><circle cx="213.7" cy="832.18" r="6.3" fill="#fff" stroke="#000" stroke-width="1.45"/><circle cx="225.88" cy="833.23" r="6.3" fill="#fff" stroke="#000" stroke-width="1.45"/><circle cx="238.06" cy="832.75" r="6.3" fill="#fff" stroke="#000" stroke-width="1.45"/><circle cx="250.24" cy="832.27" r="6.3" fill="#fff" stroke="#000" stroke-width="1.45"/><circle cx="262.42" cy="828.95" r="6.3" fill="#fff" stroke="#000" stroke-width="1.45"/><circle cx="274.6" cy="821.35" r="6.3" fill="#fff" stroke="#000" stroke-width="1.45"/><circle cx="286.78" cy="818.78" r="6.3" fill="#fff" stroke="#000" stroke-width="1.45"/><circle cx="298.96" cy="817.55" r="6.3" fill="#fff" stroke="#000" stroke-width="1.45"/><circle cx="311.14" cy="811.38" r="6.3" fill="#fff" stroke="#000" stroke-width="1.45"/><circle cx="323.32" cy="764.83" r="6.3" fill="#fff" stroke="#000" stroke-width="1.45"/><circle cx="335.5" cy="695.95" r="6.3" fill="#fff" stroke="#000" stroke-width="1.45"/><circle cx="347.68" cy="688.35" r="6.3" fill="#fff" stroke="#000" stroke-width="1.45"/><circle cx="359.86" cy="722.55" r="6.3" fill="#fff" stroke="#000" stroke-width="1.45"/><circle cx="372.04" cy="749.34" r="6.3" fill="#fff" stroke="#000" stroke-width="1.45"/><circle cx="384.22" cy="758.65" r="6.3" fill="#fff" stroke="#000" stroke-width="1.45"/><circle cx="396.4" cy="779.26" r="6.3" fill="#fff" stroke="#000" stroke-width="1.45"/><circle cx="408.58" cy="786.2" r="6.3" fill="#fff" stroke="#000" stroke-width="1.45"/><circle cx="420.76" cy="790.76" r="6.3" fill="#fff" stroke="#000" stroke-width="1.45"/><circle cx="432.94" cy="794.75" r="6.3" fill="#fff" stroke="#000" stroke-width="1.45"/><circle cx="445.12" cy="800.64" r="6.3" fill="#fff" stroke="#000" stroke-width="1.45"/>

<polyline points="91.9,835.12 104.08,835.12 116.26,835.12 128.44,835.12 140.62,835.12 152.8,835.12 164.98,835.12 177.16,835.12 189.34,835.12 201.52,834.27 213.7,833.7 225.88,834.18 238.06,833.7 250.24,832.75 262.42,829.9 274.6,822.3 286.78,801.02 298.96,767.3 311.14,750.58 323.32,716.09 335.5,621.09 347.68,683.03 359.86,750.58 372.04,784.77 384.22,799.02 396.4,811.38 408.58,812.8 420.76,814.8 432.94,821.07 445.12,822.68" fill="none" stroke="#000" stroke-width="1.55" stroke-linejoin="round"/><rect x="86.55" y="829.77" width="10.7" height="10.7" fill="#fff" stroke="#000" stroke-width="1.45"/><rect x="98.73" y="829.77" width="10.7" height="10.7" fill="#fff" stroke="#000" stroke-width="1.45"/><rect x="110.91" y="829.77" width="10.7" height="10.7" fill="#fff" stroke="#000" stroke-width="1.45"/><rect x="123.09" y="829.77" width="10.7" height="10.7" fill="#fff" stroke="#000" stroke-width="1.45"/><rect x="135.27" y="829.77" width="10.7" height="10.7" fill="#fff" stroke="#000" stroke-width="1.45"/><rect x="147.45" y="829.77" width="10.7" height="10.7" fill="#fff" stroke="#000" stroke-width="1.45"/><rect x="159.63" y="829.77" width="10.7" height="10.7" fill="#fff" stroke="#000" stroke-width="1.45"/><rect x="171.81" y="829.77" width="10.7" height="10.7" fill="#fff" stroke="#000" stroke-width="1.45"/><rect x="183.99" y="829.77" width="10.7" height="10.7" fill="#fff" stroke="#000" stroke-width="1.45"/><rect x="196.17" y="828.92" width="10.7" height="10.7" fill="#fff" stroke="#000" stroke-width="1.45"/><rect x="208.35" y="828.35" width="10.7" height="10.7" fill="#fff" stroke="#000" stroke-width="1.45"/><rect x="220.53" y="828.83" width="10.7" height="10.7" fill="#fff" stroke="#000" stroke-width="1.45"/><rect x="232.71" y="828.35" width="10.7" height="10.7" fill="#fff" stroke="#000" stroke-width="1.45"/><rect x="244.89" y="827.4" width="10.7" height="10.7" fill="#fff" stroke="#000" stroke-width="1.45"/><rect x="257.07" y="824.55" width="10.7" height="10.7" fill="#fff" stroke="#000" stroke-width="1.45"/><rect x="269.25" y="816.95" width="10.7" height="10.7" fill="#fff" stroke="#000" stroke-width="1.45"/><rect x="281.43" y="795.67" width="10.7" height="10.7" fill="#fff" stroke="#000" stroke-width="1.45"/><rect x="293.61" y="761.95" width="10.7" height="10.7" fill="#fff" stroke="#000" stroke-width="1.45"/><rect x="305.79" y="745.23" width="10.7" height="10.7" fill="#fff" stroke="#000" stroke-width="1.45"/><rect x="317.97" y="710.74" width="10.7" height="10.7" fill="#fff" stroke="#000" stroke-width="1.45"/><rect x="330.15" y="615.74" width="10.7" height="10.7" fill="#fff" stroke="#000" stroke-width="1.45"/><rect x="342.33" y="677.68" width="10.7" height="10.7" fill="#fff" stroke="#000" stroke-width="1.45"/><rect x="354.51" y="745.23" width="10.7" height="10.7" fill="#fff" stroke="#000" stroke-width="1.45"/><rect x="366.69" y="779.42" width="10.7" height="10.7" fill="#fff" stroke="#000" stroke-width="1.45"/><rect x="378.87" y="793.67" width="10.7" height="10.7" fill="#fff" stroke="#000" stroke-width="1.45"/><rect x="391.05" y="806.02" width="10.7" height="10.7" fill="#fff" stroke="#000" stroke-width="1.45"/><rect x="403.23" y="807.45" width="10.7" height="10.7" fill="#fff" stroke="#000" stroke-width="1.45"/><rect x="415.41" y="809.45" width="10.7" height="10.7" fill="#fff" stroke="#000" stroke-width="1.45"/><rect x="427.59" y="815.72" width="10.7" height="10.7" fill="#fff" stroke="#000" stroke-width="1.45"/><rect x="439.77" y="817.33" width="10.7" height="10.7" fill="#fff" stroke="#000" stroke-width="1.45"/>

<polyline points="91.9,808.5 104.08,819.8 116.26,816.76 128.44,825.98 140.62,825.98 152.8,829.3 164.98,831.01 177.16,824.74 189.34,816.76 201.52,809.26 213.7,810.02 225.88,824.74 238.06,786.27 250.24,818 262.42,819.8 274.6,796.24 286.78,819.99 298.96,818.57 311.14,815.15 323.32,791.3 335.5,701.43 347.68,703.81 359.86,745.04 372.04,781.23 384.22,797.67 396.4,805.27 408.58,798.62 420.76,806.22 432.94,808.88 445.12,830.63" fill="none" stroke="#000" stroke-width="1.55" stroke-linejoin="round"/><polygon points="85.45,812.43 98.35,812.43 91.9,800.63" fill="#000" stroke="#000" stroke-width="1" stroke-linejoin="miter"/><polygon points="97.63,823.74 110.53,823.74 104.08,811.94" fill="#000" stroke="#000" stroke-width="1" stroke-linejoin="miter"/><polygon points="109.81,820.69 122.71,820.69 116.26,808.89" fill="#000" stroke="#000" stroke-width="1" stroke-linejoin="miter"/><polygon points="121.99,829.91 134.89,829.91 128.44,818.11" fill="#000" stroke="#000" stroke-width="1" stroke-linejoin="miter"/><polygon points="134.17,829.91 147.07,829.91 140.62,818.11" fill="#000" stroke="#000" stroke-width="1" stroke-linejoin="miter"/><polygon points="146.35,833.24 159.25,833.24 152.8,821.44" fill="#000" stroke="#000" stroke-width="1" stroke-linejoin="miter"/><polygon points="158.53,834.94 171.43,834.94 164.98,823.14" fill="#000" stroke="#000" stroke-width="1" stroke-linejoin="miter"/><polygon points="170.71,828.67 183.61,828.67 177.16,816.88" fill="#000" stroke="#000" stroke-width="1" stroke-linejoin="miter"/><polygon points="182.89,820.69 195.79,820.69 189.34,808.89" fill="#000" stroke="#000" stroke-width="1" stroke-linejoin="miter"/><polygon points="195.07,813.19 207.97,813.19 201.52,801.39" fill="#000" stroke="#000" stroke-width="1" stroke-linejoin="miter"/><polygon points="207.25,813.95 220.15,813.95 213.7,802.15" fill="#000" stroke="#000" stroke-width="1" stroke-linejoin="miter"/><polygon points="219.43,828.67 232.33,828.67 225.88,816.88" fill="#000" stroke="#000" stroke-width="1" stroke-linejoin="miter"/><polygon points="231.61,790.2 244.51,790.2 238.06,778.4" fill="#000" stroke="#000" stroke-width="1" stroke-linejoin="miter"/><polygon points="243.79,821.93 256.69,821.93 250.24,810.13" fill="#000" stroke="#000" stroke-width="1" stroke-linejoin="miter"/><polygon points="255.97,823.74 268.87,823.74 262.42,811.94" fill="#000" stroke="#000" stroke-width="1" stroke-linejoin="miter"/><polygon points="268.15,800.17 281.05,800.17 274.6,788.38" fill="#000" stroke="#000" stroke-width="1" stroke-linejoin="miter"/><polygon points="280.33,823.92 293.23,823.92 286.78,812.12" fill="#000" stroke="#000" stroke-width="1" stroke-linejoin="miter"/><polygon points="292.51,822.5 305.41,822.5 298.96,810.7" fill="#000" stroke="#000" stroke-width="1" stroke-linejoin="miter"/><polygon points="304.69,819.08 317.59,819.08 311.14,807.28" fill="#000" stroke="#000" stroke-width="1" stroke-linejoin="miter"/><polygon points="316.87,795.24 329.77,795.24 323.32,783.44" fill="#000" stroke="#000" stroke-width="1" stroke-linejoin="miter"/><polygon points="329.05,705.37 341.95,705.37 335.5,693.57" fill="#000" stroke="#000" stroke-width="1" stroke-linejoin="miter"/><polygon points="341.23,707.74 354.13,707.74 347.68,695.94" fill="#000" stroke="#000" stroke-width="1" stroke-linejoin="miter"/><polygon points="353.41,748.97 366.31,748.97 359.86,737.17" fill="#000" stroke="#000" stroke-width="1" stroke-linejoin="miter"/><polygon points="365.59,785.16 378.49,785.16 372.04,773.37" fill="#000" stroke="#000" stroke-width="1" stroke-linejoin="miter"/><polygon points="377.77,801.6 390.67,801.6 384.22,789.8" fill="#000" stroke="#000" stroke-width="1" stroke-linejoin="miter"/><polygon points="389.95,809.2 402.85,809.2 396.4,797.4" fill="#000" stroke="#000" stroke-width="1" stroke-linejoin="miter"/><polygon points="402.13,802.55 415.03,802.55 408.58,790.75" fill="#000" stroke="#000" stroke-width="1" stroke-linejoin="miter"/><polygon points="414.31,810.15 427.21,810.15 420.76,798.35" fill="#000" stroke="#000" stroke-width="1" stroke-linejoin="miter"/><polygon points="426.49,812.81 439.39,812.81 432.94,801.01" fill="#000" stroke="#000" stroke-width="1" stroke-linejoin="miter"/><polygon points="438.67,834.56 451.57,834.56 445.12,822.76" fill="#000" stroke="#000" stroke-width="1" stroke-linejoin="miter"/>

<line x1="98.8" y1="614.5" x2="136.9" y2="614.5" stroke="#000" stroke-width="1.55"/>
<circle cx="118.2" cy="614.5" r="6.3" fill="#fff" stroke="#000" stroke-width="1.45"/>
<text x="146.3" y="619.3" font-size="16.5">HLA</text>
<line x1="98.8" y1="635.3" x2="136.9" y2="635.3" stroke="#000" stroke-width="1.55"/>
<rect x="112.85" y="629.95" width="10.7" height="10.7" fill="#fff" stroke="#000" stroke-width="1.45"/>
<text x="146.3" y="640.3" font-size="16.5">Latent AP</text>
<line x1="98.8" y1="655.7" x2="136.9" y2="655.7" stroke="#000" stroke-width="1.55"/>
<polygon points="111.75,659.63 124.65,659.63 118.2,647.83" fill="#000" stroke="#000" stroke-width="1" stroke-linejoin="miter"/>
<text x="146.3" y="660.5" font-size="16.5">Ceramide</text>

<text transform="translate(295.0 905.7) scale(0.96 1)" font-size="25.7" text-anchor="middle">Fraction</text>
</g></svg>
</body></html>
